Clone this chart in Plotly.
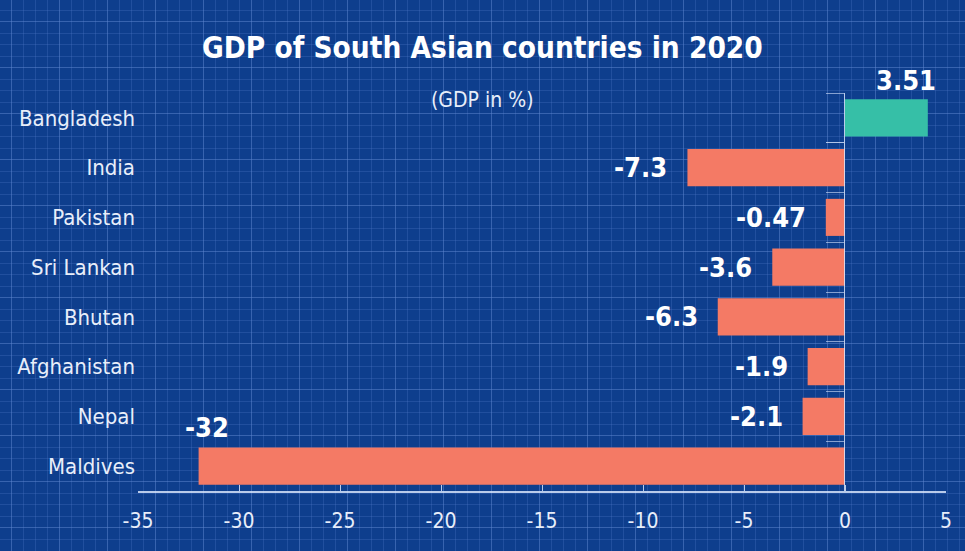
import plotly.graph_objects as go

# ---- data ----
countries = ["Bangladesh", "India", "Pakistan", "Sri Lankan", "Bhutan",
             "Afghanistan", "Nepal", "Maldives"]
bar_values = [4.1, -7.8, -0.95, -3.6, -6.3, -1.85, -2.1, -32.0]   # bar lengths as drawn
value_labels = ["3.51", "-7.3", "-0.47", "-3.6", "-6.3", "-1.9", "-2.1", "-32"]
x_tickvals = [-35, -30, -25, -20, -15, -10, -5, 0, 5]
x_ticktext = ["-35", "-30", "-25", "-20", "-15", "-10", "-5", "0", "5"]
title_text = "GDP of South Asian countries in 2020"
subtitle_text = "(GDP in %)"

W, H = 965, 551
FONT = "Liberation Sans Narrow, DejaVu Sans Condensed, Arial Narrow, sans-serif"
BG = "#0e3e8d"
POS = "#36bfa7"
NEG = "#f47a65"
LIGHT = "rgba(215,228,250,0.85)"

bar_colors = [POS if v >= 0 else NEG for v in bar_values]
n = len(countries)

fig = go.Figure()

# background blueprint grid (decorative axes covering the whole canvas)
fig.add_trace(go.Scatter(x=[0], y=[0], mode="markers", opacity=0,
                         hoverinfo="skip", showlegend=False,
                         xaxis="x", yaxis="y"))

# main bars
fig.add_trace(go.Bar(
    x=bar_values, y=countries, orientation="h",
    marker=dict(color=bar_colors, line=dict(width=0)),
    width=0.745, hoverinfo="skip", showlegend=False,
    xaxis="x2", yaxis="y2"))

# invisible trace for the zero-line axis with boundary ticks
fig.add_trace(go.Bar(
    x=bar_values, y=countries, orientation="h", opacity=0,
    hoverinfo="skip", showlegend=False, xaxis="x2", yaxis="y3"))

annotations = []
for c, v, t in zip(countries, bar_values, value_labels):
    if v >= 0:
        pos = dict(xanchor="right", xshift=10, yshift=37)
    elif v < -25:
        pos = dict(xanchor="left", xshift=-16, yshift=39)
    else:
        pos = dict(xanchor="right", xshift=-18, yshift=0)
    annotations.append(dict(x=v, y=c, xref="x2", yref="y2", text=t,
                            showarrow=False, yanchor="middle",
                            font=dict(family=FONT, size=27, color="white",
                                      weight="bold"), **pos))

annotations.append(dict(x=0.5, y=1 - 48 / H, xref="paper", yref="paper",
                        text=title_text, showarrow=False,
                        xanchor="center", yanchor="middle",
                        font=dict(family=FONT, size=29.5, color="white", weight="bold")))
annotations.append(dict(x=0.5, y=1 - 100 / H, xref="paper", yref="paper",
                        text=subtitle_text, showarrow=False,
                        xanchor="center", yanchor="middle",
                        font=dict(family=FONT, size=21, color="#e8eefa")))

fig.update_layout(
    width=W, height=H, autosize=False,
    margin=dict(l=0, r=0, t=0, b=0, pad=0, autoexpand=False),
    paper_bgcolor=BG, plot_bgcolor="rgba(0,0,0,0)",
    showlegend=False, barmode="overlay",
    annotations=annotations,
    xaxis=dict(domain=[0, 1], range=[0, W], fixedrange=True, automargin=False,
               showticklabels=False, ticks="", zeroline=False, showline=False,
               showgrid=True, tick0=11, dtick=48,
               gridcolor="rgba(95,135,210,0.5)", gridwidth=1,
               minor=dict(tick0=11, dtick=12, showgrid=True,
                          gridcolor="rgba(80,120,200,0.3)", gridwidth=1)),
    yaxis=dict(domain=[0, 1], range=[H, 0], fixedrange=True, automargin=False,
               showticklabels=False, ticks="", zeroline=False, showline=False,
               showgrid=True, tick0=21.5, dtick=46,
               gridcolor="rgba(95,135,210,0.5)", gridwidth=1,
               minor=dict(tick0=21.5, dtick=11.5, showgrid=True,
                          gridcolor="rgba(80,120,200,0.3)", gridwidth=1)),
    xaxis2=dict(domain=[138 / W, 946 / W], anchor="y2", range=[-35, 5],
                automargin=False, fixedrange=True,
                tickvals=x_tickvals, ticktext=x_ticktext,
                ticks="inside", ticklen=6, tickwidth=1.2, tickcolor=LIGHT,
                showline=True, linecolor=LIGHT, linewidth=1.5,
                showgrid=False, zeroline=False, ticklabelstandoff=10,
                tickfont=dict(family=FONT, size=21, color="#e8eefa")),
    yaxis2=dict(domain=[1 - 491 / H, 1 - 93 / H], anchor="x2",
                automargin=False, fixedrange=True,
                type="category", categoryorder="array", categoryarray=countries,
                range=[n - 0.5, -0.5], ticks="", showline=False, showgrid=False,
                zeroline=False, ticklabelstandoff=2,
                tickfont=dict(family=FONT, size=22, color="#e8eefa")),
    yaxis3=dict(overlaying="y2", anchor="free", position=844 / W, side="left",
                automargin=False, fixedrange=True,
                type="category", categoryorder="array", categoryarray=countries,
                range=[n - 0.5, -0.5], tickson="boundaries", ticks="outside",
                ticklen=18, tickwidth=1.2, tickcolor="rgba(200,215,245,0.65)",
                showline=True, linecolor=LIGHT, linewidth=1.2,
                showticklabels=False, showgrid=False, zeroline=False),
)

fig.write_html("out.html", config={"displayModeBar": False},
               post_script="document.body.style.margin='0';"
                           "document.body.style.background='" + BG + "';")
